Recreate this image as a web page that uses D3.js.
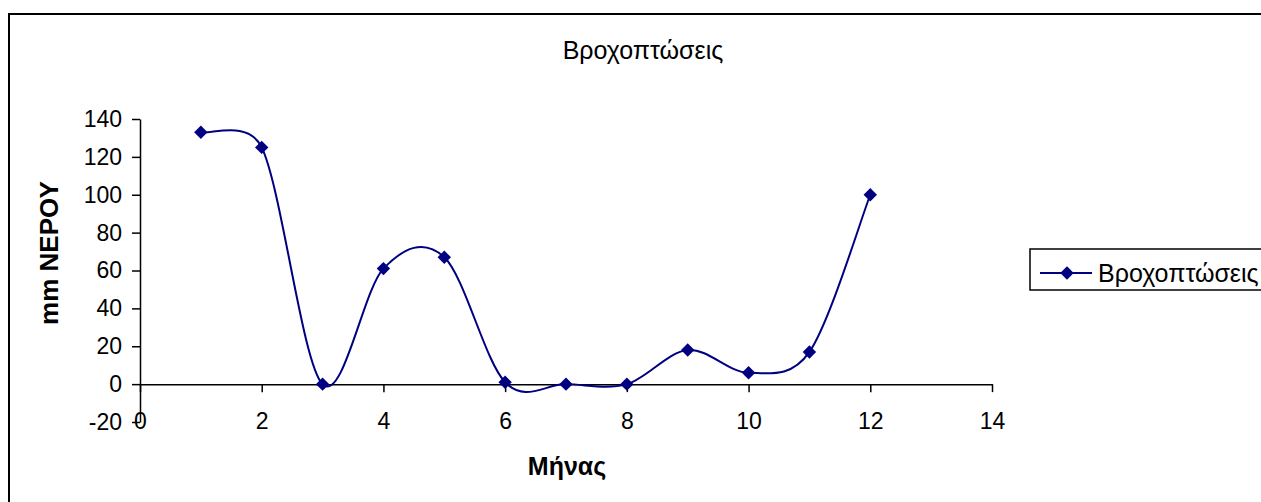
<!DOCTYPE html>
<html>
<head>
<meta charset="utf-8">
<script src="https://cdn.jsdelivr.net/npm/d3@7"></script>
<style>
  html, body { margin: 0; padding: 0; background: #fff; }
  svg { display: block; font-family: Arial, "Liberation Sans", sans-serif; }
</style>
</head>
<body>
<svg id="chart" width="1261" height="502"></svg>
<script>
// ---- data ----
const months = [1, 2, 3, 4, 5, 6, 7, 8, 9, 10, 11, 12];
const rainfall = [133, 125, 0, 61, 67, 1, 0, 0, 18, 6, 17, 100];
const xTicks = [0, 2, 4, 6, 8, 10, 12, 14];
const yTicks = [-20, 0, 20, 40, 60, 80, 100, 120, 140];
const seriesName = "Βροχοπτώσεις";
const chartTitle = "Βροχοπτώσεις";
const xTitle = "Μήνας";
const yTitle = "mm ΝΕΡΟΥ";

const svg = d3.select("#chart");
const color = "#000080";
const FONT = "Arial, 'Liberation Sans', sans-serif";

// outer frame
svg.append("rect")
  .attr("x", 9).attr("y", 14)
  .attr("width", 1270).attr("height", 500)
  .attr("fill", "none").attr("stroke", "#000").attr("stroke-width", 2);

const x = d3.scaleLinear().domain([0, 14]).range([140, 992]);
const y = d3.scaleLinear().domain([-20, 140]).range([422, 119]);

// Y axis at x=0
const yAxis = d3.axisLeft(y).tickValues(yTicks).tickFormat(d => String(d))
  .tickSize(8).tickSizeOuter(0).tickPadding(10);
const gy = svg.append("g").attr("transform", `translate(${x(0)},0)`).call(yAxis);
gy.select(".domain").attr("stroke", "#000").attr("stroke-width", 1.5);
gy.selectAll(".tick line").attr("stroke", "#000").attr("stroke-width", 1.5);
gy.selectAll(".tick text").attr("font-size", 23).attr("fill", "#000").attr("font-family", FONT);

// X axis at y=0, labels below plot bottom
const xAxis = d3.axisBottom(x).tickValues(xTicks).tickFormat(d => String(d))
  .tickSize(8).tickSizeOuter(0).tickPadding(21);
const gx = svg.append("g").attr("transform", `translate(0,${y(0)})`).call(xAxis);
gx.select(".domain").attr("stroke", "#000").attr("stroke-width", 1.5);
gx.selectAll(".tick line").attr("stroke", "#000").attr("stroke-width", 1.5);
gx.selectAll(".tick text").attr("font-size", 23).attr("fill", "#000").attr("font-family", FONT);

// titles
svg.append("text").attr("x", 643).attr("y", 59).attr("text-anchor", "middle")
  .attr("font-size", 25).text(chartTitle);
svg.append("text").attr("x", 567).attr("y", 475).attr("text-anchor", "middle")
  .attr("font-size", 25).attr("font-weight", "bold").text(xTitle);
svg.append("text").attr("transform", "translate(58,253) rotate(-90)")
  .attr("text-anchor", "middle").attr("font-size", 26).attr("font-weight", "bold").text(yTitle);

// Excel-style smoothed line (Bezier with 1/6 tangents, limited to half segment length)
function smoothPath(P) {
  const p = d3.path();
  const f0 = 1 / 6;
  const dist = (a, b) => Math.hypot(b[0] - a[0], b[1] - a[1]);
  p.moveTo(P[0][0], P[0][1]);
  for (let i = 0; i < P.length - 1; i++) {
    const P0 = P[i - 1] || P[i], P1 = P[i], P2 = P[i + 1], P3 = P[i + 2] || P[i + 1];
    const d12 = dist(P1, P2), d02 = dist(P0, P2), d13 = dist(P1, P3);
    let f1 = f0, f2 = f0;
    if (d02 > 0 && f0 * d02 > d12 / 2) f1 = d12 / (2 * d02);
    if (d13 > 0 && f0 * d13 > d12 / 2) f2 = d12 / (2 * d13);
    const c1 = [P1[0] + f1 * (P2[0] - P0[0]), P1[1] + f1 * (P2[1] - P0[1])];
    const c2 = [P2[0] - f2 * (P3[0] - P1[0]), P2[1] - f2 * (P3[1] - P1[1])];
    p.bezierCurveTo(c1[0], c1[1], c2[0], c2[1], P2[0], P2[1]);
  }
  return p.toString();
}

const pts = months.map((m, i) => [m, rainfall[i]]);
const pix = pts.map(d => [x(d[0]), y(d[1])]);
svg.append("path").attr("d", smoothPath(pix))
  .attr("fill", "none").attr("stroke", color).attr("stroke-width", 2);

const diamond = d3.symbol().type(d3.symbolSquare).size(90);
svg.selectAll(".pt").data(pts).join("path").attr("class", "pt")
  .attr("d", diamond)
  .attr("transform", d => `translate(${x(d[0])},${y(d[1])}) rotate(45)`)
  .attr("fill", color);

// legend
svg.append("rect").attr("x", 1030).attr("y", 249).attr("width", 260).attr("height", 41)
  .attr("fill", "#fff").attr("stroke", "#000").attr("stroke-width", 1.5);
svg.append("line").attr("x1", 1040).attr("x2", 1092).attr("y1", 273).attr("y2", 273)
  .attr("stroke", color).attr("stroke-width", 2);
svg.append("path").attr("d", diamond).attr("transform", "translate(1067,273) rotate(45)").attr("fill", color);
svg.append("text").attr("x", 1098).attr("y", 282).attr("font-size", 25).text(seriesName);
</script>
</body>
</html>
